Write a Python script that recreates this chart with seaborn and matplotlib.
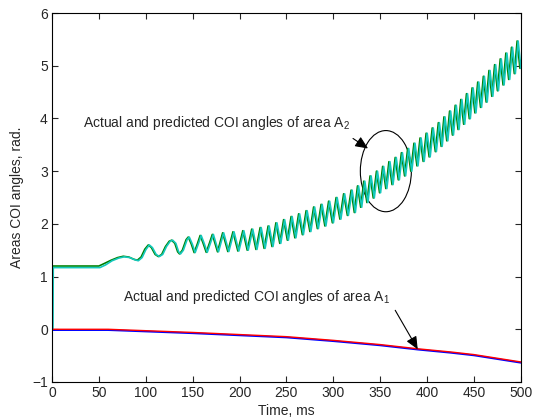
import numpy as np
import pandas as pd
import matplotlib
matplotlib.use("Agg")
import matplotlib.pyplot as plt
import matplotlib.transforms as mtransforms
from matplotlib.patches import Ellipse
import seaborn as sns

# ---- area A2: onset (before the swing develops) ----
a2_onset_time = [0, 0.3, 50, 56, 63, 70, 76, 82, 87, 91, 95, 99]
a2_onset_actual = [0, 1.20, 1.20, 1.25, 1.31, 1.36, 1.385, 1.37, 1.33, 1.31, 1.37, 1.52]
a2_onset_pred = [0, 1.17, 1.17, 1.22, 1.30, 1.35, 1.375, 1.36, 1.32, 1.30, 1.36, 1.51]

# ---- area A2: oscillating part (turning points of the swing) ----
a2_osc_time = [
    102.7, 106, 110, 113.4, 117, 121, 125, 127.6, 131, 134, 136, 139, 143, 145.3,
    148.5, 151.6, 155, 158, 161, 164.5, 168, 171, 176.5, 182, 187.5, 193, 198.2,
    203.5, 208.2, 213, 217.5, 222, 226.2, 230.5, 234.6, 238.8, 242.9, 247, 251,
    255, 259, 263, 267, 271, 275, 279, 283, 287, 291, 295, 299, 303, 307, 311,
    315, 319, 322.4, 325.8, 329.2, 332.5, 335.8, 339.2, 342.6, 346, 349.3, 352.6,
    356, 359.3, 362.6, 366, 369.3, 372.6, 376, 379.3, 382.6, 386, 389.2, 392.5,
    395.8, 399, 402.2, 405.5, 408.8, 412, 415, 418, 421, 424, 427, 430, 433, 436,
    439, 442, 445, 448, 451, 454, 457, 460, 463, 466, 469, 472, 475, 478, 481,
    484, 487, 490, 493, 496, 499, 500,
]
a2_osc_value = [
    1.60, 1.55, 1.42, 1.38, 1.42, 1.57, 1.67, 1.69, 1.63, 1.47, 1.43, 1.50, 1.70, 1.75,
    1.62, 1.455, 1.62, 1.78, 1.64, 1.46, 1.64, 1.80, 1.47, 1.83, 1.475, 1.85, 1.485,
    1.87, 1.50, 1.90, 1.515, 1.93, 1.535, 1.96, 1.57, 2.02, 1.63, 2.08, 1.69,
    2.14, 1.735, 2.19, 1.795, 2.25, 1.855, 2.32, 1.91, 2.37, 1.96, 2.43, 2.02, 2.50, 2.09, 2.57,
    2.16, 2.64, 2.215, 2.72, 2.315, 2.81, 2.405, 2.91, 2.49, 3.00, 2.59, 3.09,
    2.67, 3.18, 2.745, 3.26, 2.835, 3.35, 2.91, 3.43, 3.00, 3.53, 3.10, 3.63,
    3.185, 3.72, 3.27, 3.82, 3.37, 3.92, 3.47, 4.03, 3.575, 4.14, 3.685, 4.25, 3.79, 4.36,
    3.89, 4.47, 3.995, 4.58, 4.105, 4.69, 4.21, 4.80, 4.31, 4.91, 4.42, 5.02, 4.525, 5.13, 4.635,
    5.24, 4.74, 5.35, 4.85, 5.47, 4.95, 5.10,
]

# ---- area A1 ----
a1_time = [0, 60, 90, 120, 150, 200, 250, 300, 350, 390, 425, 450, 475, 500]
a1_value = [0, 0, -0.02, -0.04, -0.06, -0.10, -0.14, -0.21, -0.29, -0.37, -0.43, -0.48, -0.55, -0.62]

x_ticks = list(range(0, 501, 50))
y_ticks = list(range(-1, 7))

a2_actual = pd.DataFrame({"t": a2_onset_time + a2_osc_time,
                          "v": a2_onset_actual + a2_osc_value})
a2_pred = pd.DataFrame({"t": a2_onset_time + a2_osc_time,
                        "v": a2_onset_pred + a2_osc_value})
a1 = pd.DataFrame({"t": a1_time, "v": a1_value})

sns.set_style("ticks")
plt.rcParams["font.family"] = ["Liberation Sans", "DejaVu Sans"]
plt.rcParams["mathtext.fontset"] = "custom"
plt.rcParams["mathtext.rm"] = "Liberation Sans"
plt.rcParams["mathtext.it"] = "Liberation Sans:italic"

fig = plt.figure(figsize=(5.37, 4.2), dpi=100)
ax = fig.add_axes([0.0968, 0.0905, 0.8732, 0.8785])

GREEN = "#008000"
CYAN = "#14c8bc"

sns.lineplot(data=a2_actual, x="t", y="v", ax=ax, color=GREEN, lw=1.2,
             sort=False, estimator=None)
sns.lineplot(data=a2_pred, x="t", y="v", ax=ax, color=CYAN, lw=1.2,
             sort=False, estimator=None)
# predicted trace lags the actual one by a hair
shift_right = mtransforms.offset_copy(ax.transData, fig=fig, x=1.0, y=0, units="dots")
ax.lines[-1].set_transform(shift_right)

sns.lineplot(data=a1, x="t", y="v", ax=ax, color="#0000ff", lw=1.3,
             sort=False, estimator=None)
shift_down = mtransforms.offset_copy(ax.transData, fig=fig, x=0, y=-0.8, units="dots")
ax.lines[-1].set_transform(shift_down)
sns.lineplot(data=a1, x="t", y="v", ax=ax, color="#ff0000", lw=1.0,
             sort=False, estimator=None)

ax.add_patch(Ellipse((356, 3.0), 54.4, 1.54, fill=False, ec="black", lw=0.8))

arrow = dict(arrowstyle="-|>,head_length=0.45,head_width=0.2", color="black",
             lw=0.8, mutation_scale=17, shrinkA=0, shrinkB=0)
ax.text(33, 3.83, r"Actual and predicted COI angles of area A$_{\mathrm{2}}$",
        fontsize=10, va="baseline", ha="left")
ax.annotate("", xy=(337, 3.43), xytext=(321, 3.62), arrowprops=arrow)

ax.text(75.7, 0.53, r"Actual and predicted COI angles of area A$_{\mathrm{1}}$",
        fontsize=10, va="baseline", ha="left")
ax.annotate("", xy=(390, -0.38), xytext=(366, 0.36), arrowprops=arrow)

ax.set_xlim(0, 500)
ax.set_ylim(-1, 6)
ax.set_xticks(x_ticks)
ax.set_yticks(y_ticks)
ax.set_xlabel("Time, ms", fontsize=10, labelpad=3)
ax.set_ylabel("Areas COI angles, rad.", fontsize=10, labelpad=6)
ax.tick_params(direction="in", top=True, right=True, length=4, width=0.8,
               labelsize=10, pad=3)
for s in ax.spines.values():
    s.set_visible(True)
    s.set_color("black")
    s.set_linewidth(0.8)

fig.savefig("out.png", dpi=100)
